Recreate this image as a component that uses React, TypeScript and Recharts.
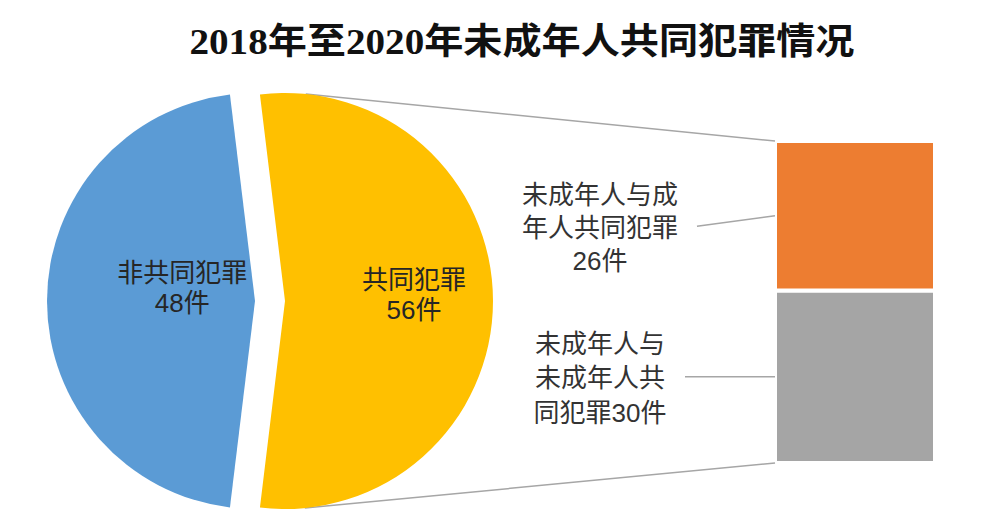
import React from "react";
import { PieChart, Pie, Cell, BarChart, Bar, XAxis, YAxis } from "recharts";

const title = "2018年至2020年未成年人共同犯罪情况";

// pie: joint vs. non-joint crimes
const pieNames = ["共同犯罪", "非共同犯罪"];
const pieValues = [56, 48];
const pieColors = ["#FFC000", "#5B9BD5"];

// bar: how the joint crimes split (bottom to top)
const barNames = ["未成年人与未成年人共同犯罪", "未成年人与成年人共同犯罪"];
const barValues = [30, 26];
const barColors = ["#A5A5A5", "#ED7D31"];
// line wraps of the bar labels, the count goes after the last line
const barLabelWraps = [
  ["未成年人与", "未成年人共", "同犯罪"],
  ["未成年人与成", "年人共同犯罪", ""],
];

const W = 1000;
const H = 528;
const PIE_CX = 270;
const PIE_CY = 301;
const PIE_R = 208;
const EXPLODE = 15;
const BAR_BOX = { top: 141, right: 65, bottom: 65, left: 775 };
const labelFont = "'Liberation Sans', 'Noto Sans CJK SC', sans-serif";
const FS = 26;
// baseline sits this far below the visual centre of a CJK line
const BASE_SHIFT = FS * 0.36;
const lineColor = "#A6A6A6";

// label placement (fraction of radius along the mid angle, vertical nudge)
const pieLabelPos = [
  { f: 0.62, dy: -6 },
  { f: 0.35, dy: -13 },
];
const barLabelPos = [
  { dy: 1, gap: 34.5, from: [-90, 0] },
  { dy: 11.5, gap: 33, from: [-78, 10.5] },
];

const pieTotal = pieValues.reduce((a, b) => a + b, 0);
const barTotal = barValues.reduce((a, b) => a + b, 0);
// split slice centred on the right, like a pie-of-bar chart
const startAngle = -(pieValues[0] / pieTotal) * 180;
let acc = 0;
const midAngles = pieValues.map((v) => {
  const m = startAngle + ((acc + v / 2) / pieTotal) * 360;
  acc += v;
  return m;
});

const pieData = pieNames.map((name, i) => ({ name, value: pieValues[i] }));
const barRow: any = { name: pieNames[0] };
barNames.forEach((n, i) => (barRow["s" + i] = barValues[i]));

const RAD = Math.PI / 180;
const splitCx = PIE_CX + EXPLODE * Math.cos(-midAngles[0] * RAD);

// tangent point on the split slice's circle as seen from a bar corner
function tangent(px: number, py: number, upper: boolean) {
  const dx = px - splitCx;
  const dy = py - PIE_CY;
  const d = Math.hypot(dx, dy);
  const base = Math.atan2(dy, dx);
  const a = Math.acos(PIE_R / d);
  const ang = upper ? base - a : base + a;
  return [splitCx + PIE_R * Math.cos(ang), PIE_CY + PIE_R * Math.sin(ang)];
}

const pieLabel = (slice: number) => (props: any) => {
  const idx = props.index ?? pieNames.indexOf(props.name);
  if (idx !== slice) return null;
  const { f, dy } = pieLabelPos[slice];
  const rad = -props.midAngle * RAD;
  const x = props.cx + props.outerRadius * f * Math.cos(rad);
  const y = props.cy + props.outerRadius * f * Math.sin(rad) + dy + BASE_SHIFT;
  const common = {
    x,
    textAnchor: "middle" as const,
    fontFamily: labelFont,
    fontSize: FS,
    fill: "#262626",
  };
  return (
    <g>
      <text {...common} y={y - 15}>{pieNames[slice]}</text>
      <text {...common} y={y + 15}>{pieValues[slice]}件</text>
    </g>
  );
};

const barLabel = (i: number) => (props: any) => {
  const x = Number(props.x);
  const y = Number(props.y);
  const h = Number(props.height);
  const midY = y + h / 2;
  const { dy, gap, from } = barLabelPos[i];
  const lines = barLabelWraps[i].map((l, k, arr) =>
    k === arr.length - 1 ? l + barValues[i] + "件" : l
  );
  const tx = x - 175;
  const cy0 = midY + dy - ((lines.length - 1) / 2) * gap + BASE_SHIFT;
  const isTop = i === barValues.length - 1;
  const corner = isTop ? [x, y] : [x, y + h];
  const t = tangent(corner[0], corner[1], isTop);
  return (
    <g>
      <line x1={t[0]} y1={t[1]} x2={corner[0]} y2={corner[1]} stroke={lineColor} strokeWidth={1.5} />
      <line x1={x + from[0]} y1={midY + from[1]} x2={x} y2={midY} stroke={lineColor} strokeWidth={1.5} />
      {lines.map((l, k) => (
        <text key={k} x={tx} y={cy0 + k * gap} textAnchor="middle" fontFamily={labelFont} fontSize={FS} fill="#333">
          {l}
        </text>
      ))}
    </g>
  );
};

export default function App() {
  return (
    <div style={{ position: "fixed", left: 0, top: 0, width: W, height: H, background: "#fff" }}>
      <div style={{ position: "absolute", left: 0, top: 0 }}>
        <BarChart width={W} height={H} data={[barRow]} margin={BAR_BOX} barCategoryGap={0}>
          <XAxis dataKey="name" hide />
          <YAxis hide domain={[0, barTotal]} />
          {barNames.map((n, i) => (
            <Bar
              key={n}
              dataKey={"s" + i}
              name={n}
              stackId="joint"
              fill={barColors[i]}
              stroke="#fff"
              strokeWidth={4}
              isAnimationActive={false}
              label={barLabel(i)}
            />
          ))}
        </BarChart>
      </div>
      <div style={{ position: "absolute", left: 0, top: 0 }}>
        <PieChart width={W} height={H} margin={{ top: 0, right: 0, bottom: 0, left: 0 }}>
          {pieNames.map((n, s) => (
            <Pie
              key={n}
              name={n}
              data={pieData}
              dataKey="value"
              nameKey="name"
              cx={PIE_CX + EXPLODE * Math.cos(-midAngles[s] * RAD)}
              cy={PIE_CY + EXPLODE * Math.sin(-midAngles[s] * RAD)}
              outerRadius={PIE_R}
              startAngle={startAngle}
              endAngle={startAngle + 360}
              stroke="none"
              labelLine={false}
              label={pieLabel(s)}
              isAnimationActive={false}
            >
              {pieData.map((d, k) => (
                <Cell key={d.name} fill={k === s ? pieColors[k] : "none"} />
              ))}
            </Pie>
          ))}
        </PieChart>
      </div>
      <svg width={W} height={90} style={{ position: "absolute", left: 0, top: 0 }}>
        <text
          x={522}
          y={54}
          textAnchor="middle"
          textLength={665}
          lengthAdjust="spacingAndGlyphs"
          fontFamily="'Liberation Serif', 'Noto Sans CJK SC', serif"
          fontWeight={700}
          fontSize={36}
          fill="#111"
        >
          {title}
        </text>
      </svg>
    </div>
  );
}
